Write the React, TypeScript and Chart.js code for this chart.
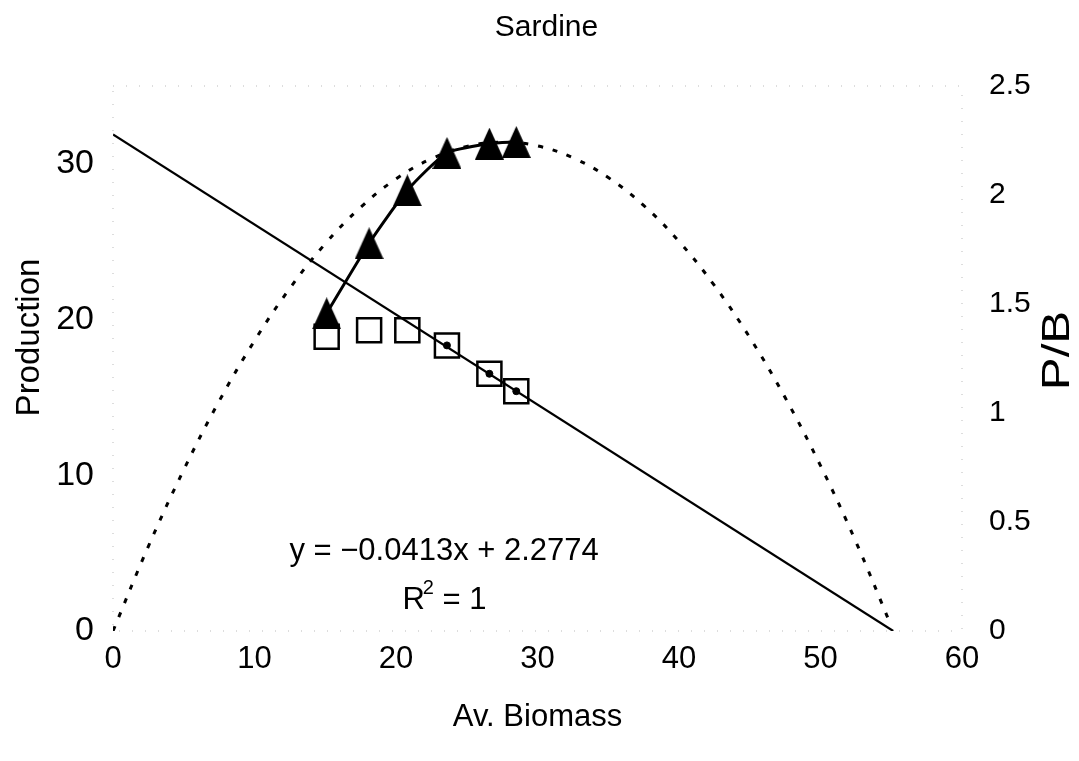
import React, { useEffect, useRef } from 'react';
import { Chart, registerables } from 'chart.js';

Chart.register(...registerables);

// ---- data ----
const chartTitle = 'Sardine';
const xTitle = 'Av. Biomass';
const yLeftTitle = 'Production';
const yRightTitle = 'P/B';
const equationText = 'y = \u22120.0413x + 2.2774';
const r2Base = 'R';
const r2Sup = '2';
const r2Rest = ' = 1';

const biomass = [15.1, 18.1, 20.8, 23.6, 26.6, 28.5];
const production = [20.4, 24.9, 28.3, 30.7, 31.3, 31.4];
const pbRatio = [1.35, 1.38, 1.38, 1.31, 1.18, 1.1];
const fitDotIndex = [3, 4, 5];

// fitted (dotted) production curve
const curveBiomass = [0, 2.5, 5, 7.5, 10, 12.5, 15, 17.5, 20, 22.5, 25, 27.5, 30, 32.5, 35, 37.5, 40, 42.5, 45, 47.5, 50, 52.5, 55];
const curveProduction = [0, 5.44, 10.35, 14.76, 18.64, 22.01, 24.87, 27.21, 29.03, 30.33, 31.12, 31.39, 31.15, 30.39, 29.12, 27.33, 25.02, 22.19, 18.85, 14.99, 10.62, 5.73, 0.32];

// linear P/B trend line
const trendBiomass = [0, 55.14];
const trendPB = [2.2774, 0];

// axes
const xMin = 0;
const xMax = 60;
const xTicks = [0, 10, 20, 30, 40, 50, 60];
const leftMin = 0;
const leftMax = 35;
const leftTicks = [0, 10, 20, 30];
const rightMin = 0;
const rightMax = 2.5;
const rightTicks = [0, 0.5, 1, 1.5, 2, 2.5];

// annotation anchors (data coords)
const eqAnchor = { x: 23.4, y: 5.1 };
const r2Anchor = { x: 23.5, y: 1.95 };

const SANS = '"Liberation Sans", Arial, sans-serif';
const NARROW = '"Liberation Sans Narrow", "Liberation Sans", Arial, sans-serif';

function makeTriangle(): HTMLCanvasElement {
  const c = document.createElement('canvas');
  c.width = 29;
  c.height = 32;
  const g = c.getContext('2d')!;
  g.fillStyle = '#000';
  g.beginPath();
  g.moveTo(14.5, 0);
  g.lineTo(29, 32);
  g.lineTo(0, 32);
  g.closePath();
  g.fill();
  return c;
}

const annotPlugin = {
  id: 'annot',
  beforeDatasetsDraw(chart: any) {
    const { ctx, chartArea } = chart;
    ctx.save();
    ctx.strokeStyle = '#bbb';
    ctx.lineWidth = 1;
    ctx.setLineDash([1, 12]);
    ctx.strokeRect(chartArea.left, chartArea.top, chartArea.right - chartArea.left, chartArea.bottom - chartArea.top);
    ctx.restore();
  },
  afterDraw(chart: any) {
    const { ctx, chartArea } = chart;
    const xs = chart.scales.x;
    const yl = chart.scales.y;
    ctx.save();
    ctx.fillStyle = '#000';

    // chart title
    ctx.font = `30px ${SANS}`;
    ctx.textAlign = 'center';
    ctx.textBaseline = 'alphabetic';
    ctx.fillText(chartTitle, (chartArea.left + chartArea.right) / 2 + 9, 36);

    // x axis title
    ctx.font = `31px ${SANS}`;
    ctx.textBaseline = 'middle';
    ctx.fillText(xTitle, (chartArea.left + chartArea.right) / 2, 717);

    // equation
    ctx.font = `31px ${SANS}`;
    ctx.fillText(equationText, xs.getPixelForValue(eqAnchor.x), yl.getPixelForValue(eqAnchor.y));

    // R² line with a real superscript
    const rx = xs.getPixelForValue(r2Anchor.x);
    const ry = yl.getPixelForValue(r2Anchor.y);
    ctx.font = `31px ${SANS}`;
    const wBase = ctx.measureText(r2Base).width;
    const wRest = ctx.measureText(r2Rest).width;
    ctx.font = `20px ${SANS}`;
    const wSup = ctx.measureText(r2Sup).width;
    const total = wBase + wSup + wRest;
    let cx = rx - total / 2;
    ctx.textAlign = 'left';
    ctx.font = `31px ${SANS}`;
    ctx.fillText(r2Base, cx, ry);
    cx += wBase;
    ctx.font = `20px ${SANS}`;
    ctx.fillText(r2Sup, cx - 2, ry - 12);
    cx += wSup;
    ctx.font = `31px ${SANS}`;
    ctx.fillText(r2Rest, cx - 2, ry);

    // left title
    ctx.textAlign = 'center';
    ctx.save();
    ctx.translate(30, (chartArea.top + chartArea.bottom) / 2 - 21);
    ctx.rotate(-Math.PI / 2);
    ctx.font = `33px ${SANS}`;
    ctx.fillText(yLeftTitle, 0, 0);
    ctx.restore();

    // right title
    ctx.save();
    ctx.translate(1059, (chartArea.top + chartArea.bottom) / 2 - 8);
    ctx.rotate(-Math.PI / 2);
    ctx.scale(1.3, 1);
    ctx.font = `38px ${SANS}`;
    ctx.fillText(yRightTitle, 0, 0);
    ctx.restore();

    ctx.restore();
  },
};

export default function App() {
  const ref = useRef<HTMLCanvasElement | null>(null);

  useEffect(() => {
    if (!ref.current) return;
    const tri = makeTriangle();
    const chart = new Chart(ref.current, {
      type: 'scatter',
      data: {
        datasets: [
          {
            label: 'P/B trend',
            data: trendBiomass.map((b, i) => ({ x: b, y: trendPB[i] })),
            yAxisID: 'y1',
            showLine: true,
            borderColor: '#000',
            borderWidth: 2.2,
            pointRadius: 0,
            order: 0,
          },
          {
            label: 'fit points',
            data: fitDotIndex.map((i) => ({ x: biomass[i], y: pbRatio[i] })),
            yAxisID: 'y1',
            showLine: false,
            pointRadius: 3.5,
            pointBackgroundColor: '#000',
            pointBorderColor: '#000',
            order: 0,
          },
          {
            label: 'Production',
            data: biomass.map((b, i) => ({ x: b, y: production[i] })),
            yAxisID: 'y',
            showLine: true,
            borderColor: '#000',
            borderWidth: 3,
            tension: 0.2,
            pointStyle: tri as any,
            pointRadius: 15,
            order: 1,
          },
          {
            label: 'P/B',
            data: biomass.map((b, i) => ({ x: b, y: pbRatio[i] })),
            yAxisID: 'y1',
            showLine: false,
            pointStyle: 'rect',
            pointRadius: 17,
            pointBackgroundColor: 'rgba(255,255,255,0)',
            pointBorderColor: '#000',
            pointBorderWidth: 2.5,
            order: 2,
          },
          {
            label: 'Production fit',
            data: curveBiomass.map((b, i) => ({ x: b, y: curveProduction[i] })),
            yAxisID: 'y',
            showLine: true,
            borderColor: '#000',
            borderWidth: 3,
            borderDash: [5, 10],
            tension: 0.4,
            pointRadius: 0,
            order: 3,
          },
        ],
      },
      options: {
        animation: false,
        responsive: true,
        maintainAspectRatio: false,
        layout: { padding: { top: 86, left: 0, right: 0, bottom: 0 } },
        plugins: {
          legend: { display: false },
          tooltip: { enabled: false },
          title: { display: false },
        },
        scales: {
          x: {
            type: 'linear',
            min: xMin,
            max: xMax,
            grid: { display: false, drawTicks: false },
            border: { display: false },
            afterBuildTicks: (s: any) => {
              s.ticks = xTicks.map((v) => ({ value: v }));
            },
            afterFit: (s: any) => {
              s.height = 130;
            },
            ticks: {
              padding: 10,
              color: '#000',
              font: { family: NARROW, size: 31 },
              maxRotation: 0,
              callback: (v: any) => String(v),
            },
          },
          y: {
            type: 'linear',
            position: 'left',
            min: leftMin,
            max: leftMax,
            grid: { display: false, drawTicks: false },
            border: { display: false },
            afterBuildTicks: (s: any) => {
              s.ticks = leftTicks.map((v) => ({ value: v }));
            },
            afterFit: (s: any) => {
              s.width = 113;
            },
            ticks: {
              padding: 19,
              color: '#000',
              font: { family: NARROW, size: 34 },
              callback: (v: any) => String(v),
            },
          },
          y1: {
            type: 'linear',
            position: 'right',
            min: rightMin,
            max: rightMax,
            grid: { display: false, drawTicks: false },
            border: { display: false },
            afterBuildTicks: (s: any) => {
              s.ticks = rightTicks.map((v) => ({ value: v }));
            },
            afterFit: (s: any) => {
              s.width = 117;
            },
            ticks: {
              padding: 27,
              color: '#000',
              font: { family: SANS, size: 30 },
              callback: (v: any) => String(v),
            },
          },
        },
      },
      plugins: [annotPlugin],
    });
    return () => chart.destroy();
  }, []);

  return (
    <div style={{ position: 'fixed', left: 0, top: 0, width: 1079, height: 761, background: '#fff' }}>
      <canvas ref={ref} />
    </div>
  );
}
